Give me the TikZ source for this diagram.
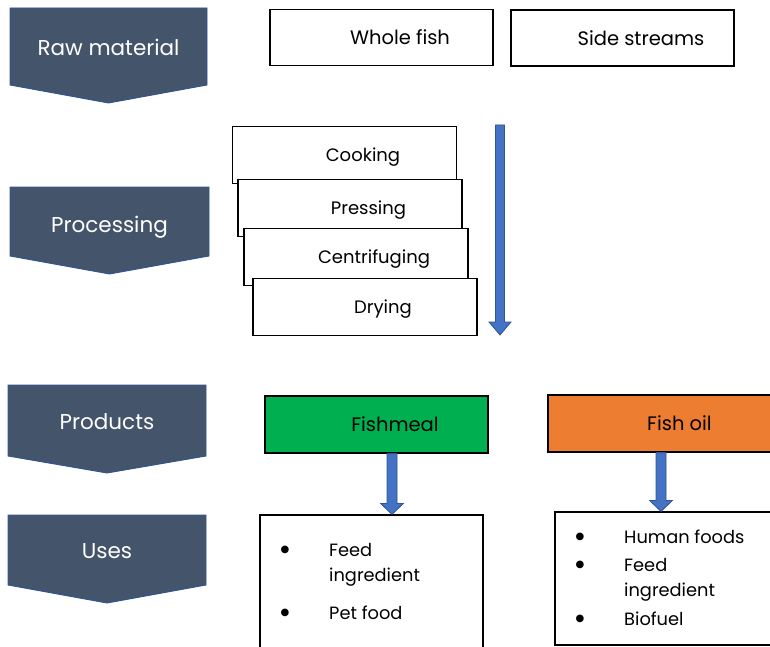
\documentclass[tikz,border=0pt]{standalone}
\usepackage{fontspec}
\setmainfont{Poppins}
\newfontfamily\dotfont{DejaVu Sans}
\usetikzlibrary{calc}

\definecolor{slate}{HTML}{44546A}
\definecolor{slateedge}{HTML}{2F5597}
\definecolor{flowblue}{HTML}{4472C4}
\definecolor{mealgreen}{HTML}{00B050}
\definecolor{oilorange}{HTML}{ED7D31}

\tikzset{
  stagefill/.style={fill=slate, draw=slateedge, line width=0.9pt},
  stagetext/.style={text=white, font=\fontsize{21.5}{24}\selectfont, inner sep=0pt,
    text depth=0pt},
  stepbox/.style={draw=black, fill=white, line width=1.2pt, minimum width=224pt,
    minimum height=57pt, inner sep=0pt, font=\fontsize{18}{20}\selectfont,
    text depth=0pt},
  topbox/.style={stepbox, minimum height=56pt, font=\fontsize{19.5}{22}\selectfont},
  prodbox/.style={stepbox, minimum height=57pt, font=\fontsize{19.5}{22}\selectfont},
  usebox/.style={draw=black, fill=white, line width=1.2pt, inner sep=0pt},
  usetext/.style={anchor=west, inner sep=0pt, font=\fontsize{17.8}{20}\selectfont},
  usedot/.style={inner sep=0pt, font=\dotfont\fontsize{10}{12}\selectfont},
  flow/.style={fill=flowblue, draw=slateedge, line width=0.8pt}
}

% block arrow: from, to, shaft half width, head half width, head length
\newcommand\blockarrow[5]{%
  \path[flow] let \p1=(#1), \p2=(#2) in
    (\x1-#3,\y1) -- (\x1+#3,\y1) -- (\x1+#3,\y2+#5) -- (\x1+#4,\y2+#5)
    -- (\x1,\y2) -- (\x1-#4,\y2+#5) -- (\x1-#3,\y2+#5) -- cycle;}

% chevron stage marker: left, right, top, side bottom, tip
\newcommand\stagemark[5]{%
  \path[stagefill] (#1,#3) -- (#2,#3) -- (#2,#4) -- ({(#1+#2)/2},#5) -- (#1,#4) -- cycle;}

\begin{document}
\begin{tikzpicture}[x=1pt,y=-1pt]
\useasboundingbox (0,0) rectangle (770,647);
\clip (0,0) rectangle (770,647);

% stage markers on the left
\stagemark{10}{207}{8}{85}{103}
\node[stagetext] (raw) at (108.5,47.5) {Raw material};
\stagemark{10}{209}{187}{256}{274}
\node[stagetext] (proc) at (109.5,224) {Processing};
\stagemark{8}{206}{385}{456}{473}
\node[stagetext] (prod) at (107,421.5) {Products};
\stagemark{8}{206}{515}{585}{603}
\node[stagetext] (uses) at (107,551.5) {Uses};

% raw material
\node[topbox, minimum width=223pt] (whole) at (381.5,37.5) {\hspace*{37pt}Whole fish};
\node[topbox, minimum width=223pt] (side) at (622.5,38) {\hspace*{37pt}Side streams};

% processing steps, each one laid over the previous
\node[stepbox] (cook) at (344.5,155) {\hspace*{37pt}Cooking};
\node[stepbox] (press) at (350,208) {\hspace*{37pt}Pressing};
\node[stepbox] (centri) at (356,257) {\hspace*{36pt}Centrifuging};
\node[stepbox] (dry) at (365,307) {\hspace*{36pt}Drying};

\coordinate (flowtop) at (500,125);
\coordinate (flowend) at (500,335);
\blockarrow{flowtop}{flowend}{4.5pt}{11pt}{13pt}

% products
\node[prodbox, fill=mealgreen, minimum width=223pt] (meal) at (376.5,424.5) {\hspace*{37pt}Fishmeal};
\node[prodbox, fill=oilorange, minimum width=226pt] (oil) at (661,423.5) {\hspace*{37pt}Fish oil};

% uses
\node[usebox, minimum width=223pt, minimum height=150pt] (mealuse) at (371.5,590) {};
\node[usebox, minimum width=218pt, minimum height=133pt] (oiluse) at (664,578.5) {};

\coordinate (mealdrop) at (392,0);
\coordinate (oildrop) at (661,0);
\blockarrow{meal.south -| mealdrop}{mealuse.north -| mealdrop}{5pt}{11.5pt}{11pt}
\blockarrow{oil.south -| oildrop}{oiluse.north -| oildrop}{5pt}{11.5pt}{11pt}

\node[usedot] (m1) at (285,550) {●};
\node[usetext] (m1t) at (329,550) {Feed};
\node[usetext] (m1u) at (329,577) {ingredient};
\node[usedot] (m2) at (285,613) {●};
\node[usetext] (m2t) at (329,613) {Pet food};

\node[usedot] (o1) at (580,537) {●};
\node[usetext] (o1t) at (624,537) {Human foods};
\node[usedot] (o2) at (580,565) {●};
\node[usetext] (o2t) at (624,565) {Feed};
\node[usetext] (o2u) at (624,592) {ingredient};
\node[usedot] (o3) at (580,619) {●};
\node[usetext] (o3t) at (624,619) {Biofuel};
\end{tikzpicture}
\end{document}
